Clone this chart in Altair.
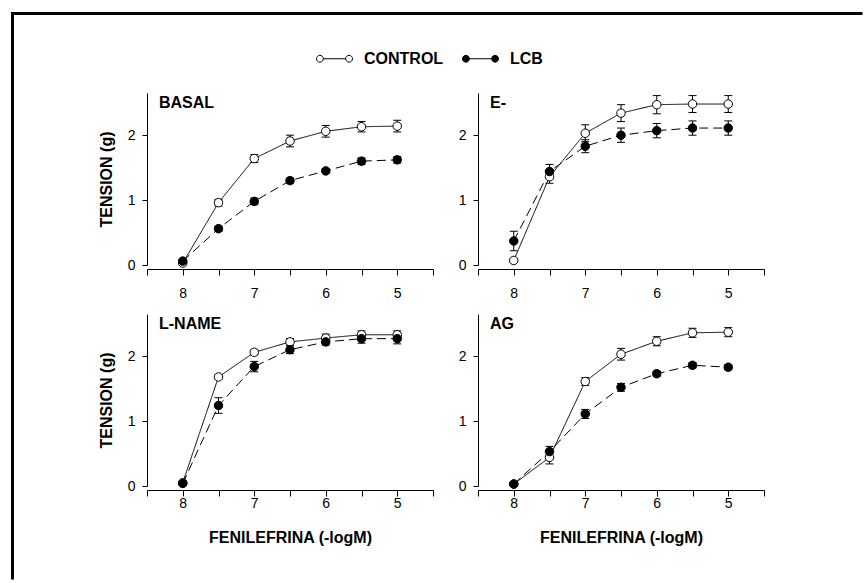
import altair as alt
import pandas as pd

# ---- data ----
conc = [8, 7.5, 7, 6.5, 6, 5.5, 5]
panels = ["BASAL", "E-", "L-NAME", "AG"]
groups = ["CONTROL", "LCB"]

basal_control = [0.03, 0.96, 1.64, 1.91, 2.06, 2.13, 2.14]
basal_control_err = [0.02, 0.05, 0.06, 0.09, 0.09, 0.08, 0.09]
basal_lcb = [0.06, 0.56, 0.98, 1.30, 1.45, 1.60, 1.62]
basal_lcb_err = [0.02, 0.04, 0.05, 0.04, 0.03, 0.05, 0.05]

e_control = [0.07, 1.36, 2.03, 2.34, 2.47, 2.48, 2.48]
e_control_err = [0.02, 0.10, 0.13, 0.13, 0.14, 0.13, 0.13]
e_lcb = [0.37, 1.44, 1.83, 2.00, 2.07, 2.11, 2.11]
e_lcb_err = [0.15, 0.11, 0.10, 0.11, 0.11, 0.11, 0.11]

lname_control = [0.05, 1.68, 2.06, 2.22, 2.28, 2.33, 2.33]
lname_control_err = [0.02, 0.03, 0.04, 0.05, 0.06, 0.06, 0.06]
lname_lcb = [0.04, 1.24, 1.84, 2.10, 2.22, 2.27, 2.27]
lname_lcb_err = [0.02, 0.12, 0.08, 0.06, 0.05, 0.07, 0.08]

ag_control = [0.03, 0.44, 1.61, 2.03, 2.23, 2.36, 2.37]
ag_control_err = [0.02, 0.10, 0.06, 0.09, 0.07, 0.07, 0.07]
ag_lcb = [0.03, 0.53, 1.11, 1.52, 1.73, 1.86, 1.83]
ag_lcb_err = [0.02, 0.08, 0.07, 0.06, 0.04, 0.04, 0.04]

x_ticks = [8.5, 8, 7.5, 7, 6.5, 6, 5.5, 5, 4.5]
y_ticks = [0, 1, 2]

series = {
    "BASAL": [(basal_control, basal_control_err), (basal_lcb, basal_lcb_err)],
    "E-": [(e_control, e_control_err), (e_lcb, e_lcb_err)],
    "L-NAME": [(lname_control, lname_control_err), (lname_lcb, lname_lcb_err)],
    "AG": [(ag_control, ag_control_err), (ag_lcb, ag_lcb_err)],
}

rows = []
for p in panels:
    for g, (vals, errs) in zip(groups, series[p]):
        for c, v, e in zip(conc, vals, errs):
            rows.append({"panel": p, "group": g, "conc": c, "mean": v, "err": e})
df = pd.DataFrame(rows)

FONT = "Liberation Sans"
W, H = 286, 172

# legend symbol: circle - line - circle
sym_path = ("M-1,0 A0.19,0.19 0 1,0 -0.62,0 A0.19,0.19 0 1,0 -1,0 "
            "M-0.62,0 L0.62,0 "
            "M0.62,0 A0.19,0.19 0 1,0 1,0 A0.19,0.19 0 1,0 0.62,0")

fill_scale = alt.Scale(domain=groups, range=["white", "black"])
dash_scale = alt.Scale(domain=groups, range=[[1, 0], [9, 5]])

leg = alt.Legend(orient="top", direction="horizontal", offset=26,
                 title=" ", titleOrient="left", titlePadding=169, titleFontSize=16,
                 labelFont=FONT, labelFontSize=16,
                 labelFontWeight="bold", labelColor="black",
                 symbolType=sym_path, symbolSize=1296, symbolStrokeColor="black",
                 symbolStrokeWidth=1, symbolOpacity=1,
                 labelOffset=11, columnPadding=16, padding=0)


def make_panel(name, left, bottom, legend):
    xaxis_kw = dict(values=x_ticks,
                    labelExpr="datum.value % 1 === 0 ? format(datum.value, 'd') : ''",
                    offset=4, tickSize=6,
                    labelPadding=0 if bottom else 11,
                    titlePadding=19)
    if bottom:
        xaxis_kw["title"] = "FENILEFRINA (-logM)"
    else:
        xaxis_kw["title"] = None
    yaxis_kw = dict(values=y_ticks, tickSize=5, labelPadding=7, titlePadding=13)
    yaxis_kw["title"] = "TENSION (g)" if left else None

    xscale = alt.Scale(domain=[4.5, 8.5], reverse=True, nice=False, zero=False)
    yscale = alt.Scale(domain=[0, 2.65], nice=False, zero=False)

    X = alt.X("conc:Q", scale=xscale, axis=alt.Axis(**xaxis_kw))

    def Y(field):
        return alt.Y(field + ":Q", scale=yscale, axis=alt.Axis(**yaxis_kw))

    base = (alt.Chart(df)
            .transform_filter(alt.datum.panel == name)
            .transform_calculate(lo="datum.mean - datum.err", hi="datum.mean + datum.err"))

    lines = base.mark_line(color="black", strokeWidth=1).encode(
        x=X, y=Y("mean"),
        strokeDash=alt.StrokeDash("group:N", scale=dash_scale, legend=None),
    )
    bars = base.mark_rule(color="black", strokeWidth=1).encode(
        x=X, y=Y("lo"), y2="hi:Q")
    cap_hi = base.mark_rule(color="black", strokeWidth=1, xOffset=-4, x2Offset=4).encode(
        x=X, x2="conc:Q", y=Y("hi"))
    cap_lo = base.mark_rule(color="black", strokeWidth=1, xOffset=-4, x2Offset=4).encode(
        x=X, x2="conc:Q", y=Y("lo"))
    pts = base.mark_circle(size=72, stroke="black", strokeWidth=1, opacity=1).encode(
        x=X, y=Y("mean"),
        fill=alt.Fill("group:N", scale=fill_scale, legend=leg if legend else None),
    )
    label = alt.Chart(pd.DataFrame({"label": [name]})).mark_text(
        align="left", baseline="alphabetic", font=FONT, fontSize=16,
        fontWeight="bold", color="black"
    ).encode(text="label:N", x=alt.value(12), y=alt.value(15))

    layers = [lines, bars, cap_hi, cap_lo, pts, label]

    if legend:
        frame = alt.Chart(pd.DataFrame({"v": [0]}))
        top_line = frame.mark_rule(color="black", strokeWidth=3, strokeCap="square").encode(
            x=alt.value(-134.5), x2=alt.value(714), y=alt.value(-79.5))
        left_line = frame.mark_rule(color="black", strokeWidth=3, strokeCap="square").encode(
            x=alt.value(-134.5), y=alt.value(-79.5), y2=alt.value(485))
        layers += [top_line, left_line]

    return alt.layer(*layers).properties(width=W, height=H)


tl = make_panel("BASAL", True, False, True)
tr = make_panel("E-", False, False, False)
bl = make_panel("L-NAME", True, True, False)
br = make_panel("AG", False, True, False)

chart = (alt.concat(tl, tr, bl, br, columns=2, spacing={"row": 49, "column": 45},
                    bounds="flush")
         .resolve_legend(fill="independent")
         .properties(padding={"left": 10, "top": 11, "right": 0, "bottom": 0},
                     background="white")
         .configure_view(stroke=None)
         .configure_axis(grid=False, domainColor="black", tickColor="black",
                         labelColor="black", titleColor="black",
                         labelFont=FONT, titleFont=FONT, labelFontSize=14,
                         titleFontSize=16, titleFontWeight="bold"))

chart.save("out.html", embed_options={"renderer": "svg", "actions": False})
